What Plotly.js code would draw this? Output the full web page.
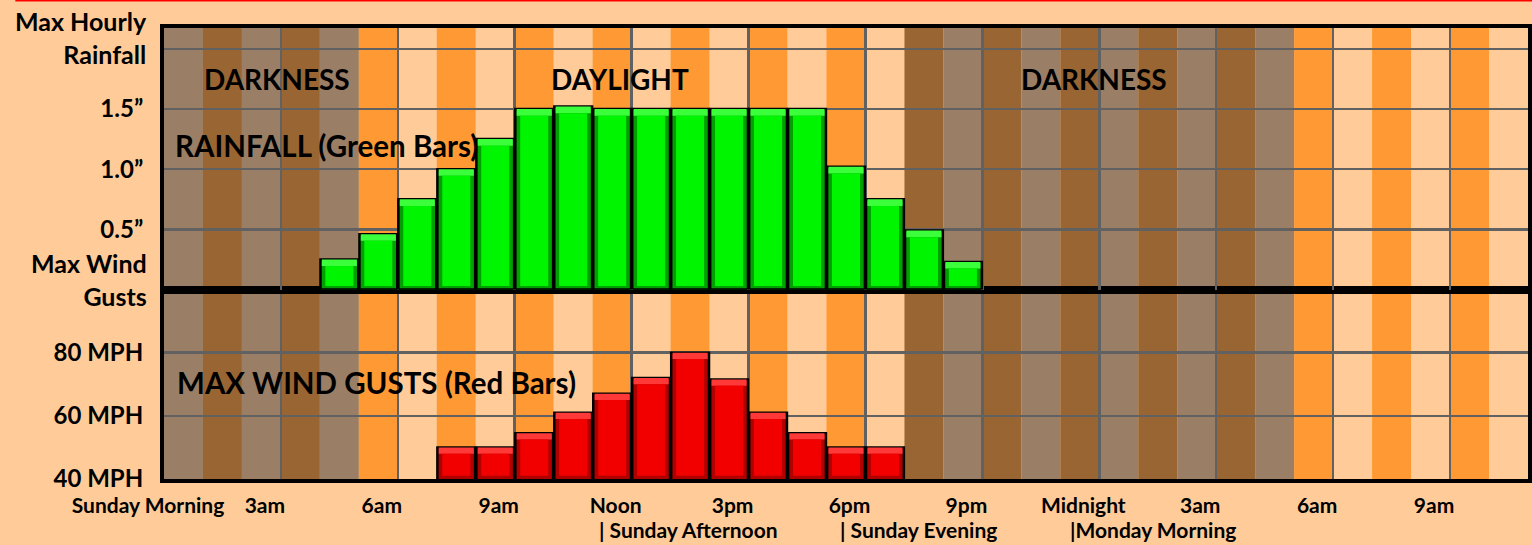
<!DOCTYPE html>
<html>
<head>
<meta charset="utf-8">
<script src="https://cdn.plot.ly/plotly-3.0.1.min.js"></script>
<style>
html,body{margin:0;padding:0;background:#FFCC99;}
#chart{width:1532px;height:545px;}
</style>
</head>
<body>
<div id="chart"></div>
<script>
// ---- data ----
// hour slots from Sunday midnight (0) through Monday 10-11am (34)
const hours = [0,1,2,3,4,5,6,7,8,9,10,11,12,13,14,15,16,17,18,19,20,21,22,23,24,25,26,27,28,29,30,31,32,33,34];
// rainfall (inches) per hour slot
const rainfall = [0,0,0,0,0.25,0.46,0.75,1.0,1.25,1.5,1.52,1.5,1.5,1.5,1.5,1.5,1.5,1.02,0.75,0.49,0.23,0,0,0,0,0,0,0,0,0,0,0,0,0,0];
// max wind gusts (MPH) per hour slot (null = no bar)
const windGusts = [null,null,null,null,null,null,null,50,50,54.5,61,67,72,80,71.5,61,54.5,50,50,null,null,null,null,null,null,null,null,null,null,null,null,null,null,null,null];
// background band per hour slot: N = night (dark), D = day (light)
const period = ['N','N','N','N','N','D','D','D','D','D','D','D','D','D','D','D','D','D','D','N','N','N','N','N','N','N','N','N','N','D','D','D','D','D','D'];
// x tick labels (every 3 hours)
const tickHours = [0,3,6,9,12,15,18,21,24,27,30,33];
const tickLabels = ['Sunday Morning','3am','6am','9am','Noon','3pm','6pm','9pm','Midnight','3am','6am','9am'];
const rainTicks = [0,0.5,1,1.5,2];
const rainTickText = ['','0.5”','1.0”','1.5”',''];
const windTicks = [40,60,80];
const windTickText = ['40 MPH','60 MPH','80 MPH'];
const dayLabels = [
  {x:11.11, text:'| Sunday Afternoon'},
  {x:17.3, text:'| Sunday Evening'},
  {x:23.2, text:'|Monday Morning'}
];

// ---- styles ----
const C = {
  paper:'#FFCC99', dayA:'#FF9933', dayB:'#FFCC99', nightA:'#9A7F66', nightB:'#996633',
  grid:'#616161'
};
const GREEN = {side:'#00A000', top:'#3CFF3C', face:'#00F500'};
const RED = {side:'#B00000', top:'#FF3838', face:'#F20000'};
const BEVEL_RAIN = {top:0.055, bottom:0.03};
const BEVEL_WIND = {top:2.0, bottom:1.0};
const WIND_BASE = 30;

const stripeShapes = hours.map((h, i) => {
  const col = period[i] === 'N' ? (i % 2 === 0 ? C.nightA : C.nightB) : (i % 2 === 1 ? C.dayA : C.dayB);
  return {type:'rect', xref:'x', yref:'paper', x0:h, x1:h+1, y0:0, y1:1, fillcolor:col, line:{width:0}, layer:'below'};
});

const FONT = 'Lato, "Open Sans", sans-serif';
const centers = hours.map(h => h + 0.5);

function bevelBars(values, base, bevel, col, xa, ya) {
  const has = v => v !== null && v > 0;
  return [
    // outer body (dark sides) with black outline
    {type:'bar', x:centers, y:values.map(v => has(v) ? v - base : null), base:base, xaxis:xa, yaxis:ya, width:0.97,
     marker:{color:col.side, line:{color:'#000', width:2.5}}, hoverinfo:'skip'},
    // light top bevel
    {type:'bar', x:centers, y:values.map(v => has(v) ? bevel.top : null), base:values.map(v => has(v) ? v - bevel.top : null),
     xaxis:xa, yaxis:ya, width:0.9, marker:{color:col.top, line:{width:0}}, hoverinfo:'skip'},
    // bright face
    {type:'bar', x:centers, y:values.map(v => has(v) ? v - bevel.top - (base + bevel.bottom) : null),
     base:base + bevel.bottom, xaxis:xa, yaxis:ya, width:0.72, marker:{color:col.face, line:{width:0}}, hoverinfo:'skip'}
  ];
}

const traces = [].concat(
  bevelBars(rainfall, 0, BEVEL_RAIN, GREEN, 'x2', 'y'),
  bevelBars(windGusts, WIND_BASE, BEVEL_WIND, RED, 'x', 'y2')
);
// wind face base must sit at the visible axis bottom
traces[5].base = 40 + BEVEL_WIND.bottom;
traces[5].y = windGusts.map(v => v === null ? null : v - BEVEL_WIND.top - (40 + BEVEL_WIND.bottom));

const bigFont = s => ({size:s, family:FONT, weight:700, color:'#000'});
const annotations = [
  {xref:'x2', yref:'y', x:2.9, y:1.75, text:'DARKNESS', showarrow:false, font:bigFont(28)},
  {xref:'x2', yref:'y', x:11.7, y:1.75, text:'DAYLIGHT', showarrow:false, font:bigFont(28)},
  {xref:'x2', yref:'y', x:23.87, y:1.75, text:'DARKNESS', showarrow:false, font:bigFont(28)},
  {xref:'x2', yref:'y', x:0.22, y:1.2, xanchor:'left', text:'RAINFALL (Green Bars)', showarrow:false, font:bigFont(29.5)},
  {xref:'x', yref:'y2', x:0.27, y:70.5, xanchor:'left', text:'MAX WIND GUSTS (Red Bars)', showarrow:false, font:bigFont(29.5)},
  {xref:'paper', yref:'paper', x:-0.011, y:0.98, xanchor:'right', yanchor:'middle', align:'right',
   text:'Max Hourly<br>Rainfall', showarrow:false, font:bigFont(25)},
  {xref:'paper', yref:'paper', x:-0.011, y:0.4424, xanchor:'right', yanchor:'middle', align:'right',
   text:'Max Wind<br>Gusts', showarrow:false, font:bigFont(25)}
];
dayLabels.forEach(d => annotations.push({xref:'x', yref:'paper', x:d.x, y:-0.113, xanchor:'left', yanchor:'middle',
  text:d.text, showarrow:false, font:bigFont(21)}));

const shapes = stripeShapes.concat([
  {type:'line', xref:'paper', yref:'paper', x0:-0.109, x1:1.01, y0:1.0605, y1:1.0605, line:{color:'#FF0000', width:1.5}}
]);

const axisFrame = {showline:true, linecolor:'#000', linewidth:4, mirror:true};

const layout = {
  width:1532, height:545,
  margin:{l:164, r:4, t:28, b:66},
  paper_bgcolor:C.paper, plot_bgcolor:C.paper,
  showlegend:false, barmode:'overlay',
  font:{family:FONT, color:'#000'},
  xaxis:Object.assign({anchor:'y2', range:[0,35], tickvals:tickHours, ticktext:tickLabels, ticks:'',
    showgrid:true, gridcolor:C.grid, gridwidth:2.5, zeroline:false, ticklabelshift:-16, ticklabelstandoff:5,
    tickfont:bigFont(21)}, axisFrame),
  xaxis2:Object.assign({anchor:'y', matches:'x', range:[0,35], tickvals:tickHours, showticklabels:false, ticks:'',
    showgrid:true, gridcolor:C.grid, gridwidth:2.5, zeroline:false}, axisFrame),
  yaxis:Object.assign({domain:[0.42,1], range:[0,2.173], tickvals:rainTicks, ticktext:rainTickText, ticks:'',
    showgrid:true, gridcolor:C.grid, gridwidth:2.5, zeroline:false, ticklabelstandoff:12,
    tickfont:bigFont(24)}, axisFrame),
  yaxis2:Object.assign({domain:[0,0.42], range:[40,100], tickvals:windTicks, ticktext:windTickText, ticks:'',
    showgrid:true, gridcolor:C.grid, gridwidth:2.5, zeroline:false, ticklabelstandoff:12,
    tickfont:bigFont(24)}, axisFrame),
  shapes:shapes,
  annotations:annotations
};

Plotly.newPlot('chart', traces, layout, {staticPlot:true, displayModeBar:false});
</script>
</body>
</html>
